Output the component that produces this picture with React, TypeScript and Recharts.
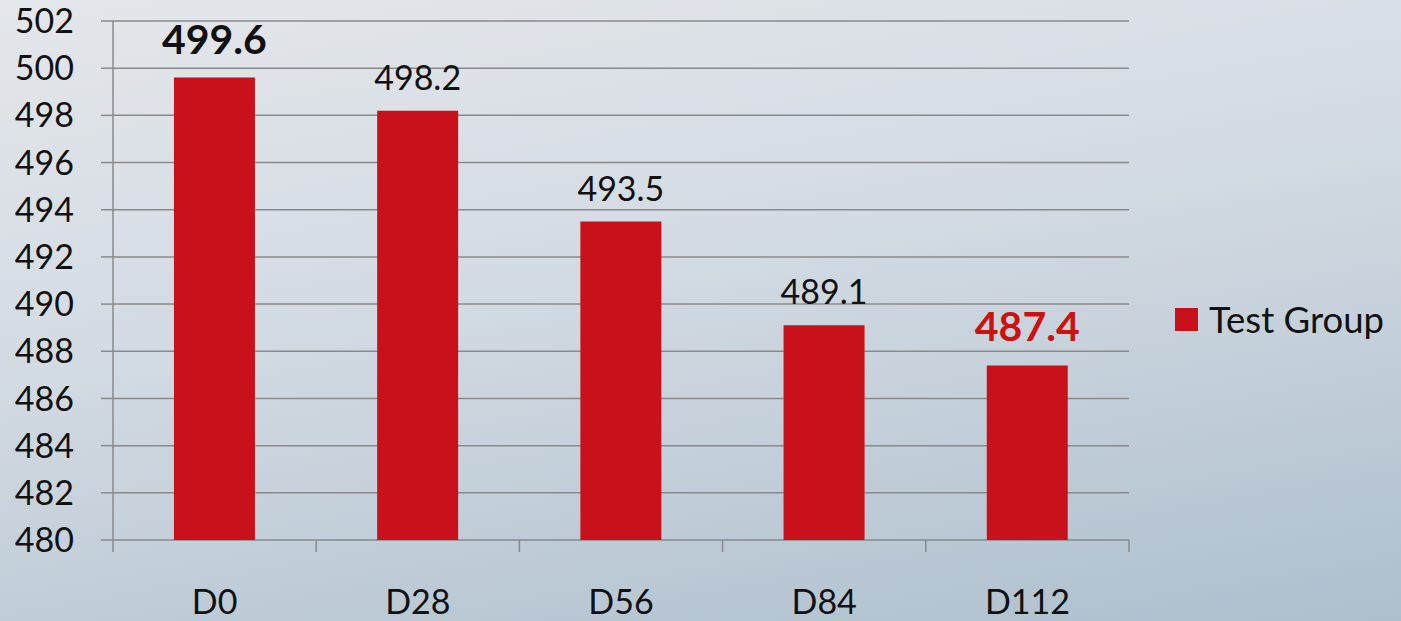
import React from "react";
import {
  BarChart,
  Bar,
  XAxis,
  YAxis,
  CartesianGrid,
  Legend,
  LabelList,
} from "recharts";

const days = ["D0", "D28", "D56", "D84", "D112"];
const testGroup = [499.6, 498.2, 493.5, 489.1, 487.4];
const yTicks = [480, 482, 484, 486, 488, 490, 492, 494, 496, 498, 500, 502];
const edgeTicks = [0, 1, 2, 3, 4, 5];

const data = days.map((day, i) => ({ day, value: testGroup[i], slot: i + 0.5 }));

const FONT = "Lato, 'Open Sans', sans-serif";
const RED = "#c8111a";
const GRID = "#8a8a8a";

// first and last labels are emphasised in the source
function ValueLabel(props: any) {
  const { x, y, width, value, index } = props;
  const last = index === testGroup.length - 1;
  const first = index === 0;
  const bold = first || last;
  return (
    <text
      x={x + width / 2}
      y={y - (bold ? 24 : 21)}
      textAnchor="middle"
      fontFamily={FONT}
      fontSize={bold ? 41 : 34}
      fontWeight={bold ? 700 : 400}
      fill={last ? "#cc1111" : "#111"}
    >
      {value}
    </text>
  );
}

function LegendBox() {
  return (
    <div style={{ display: "flex", alignItems: "center", fontFamily: FONT }}>
      <span style={{ width: 23, height: 23, background: RED, display: "inline-block" }} />
      <span style={{ marginLeft: 11, fontSize: 36.5, color: "#111" }}>Test Group</span>
    </div>
  );
}

export default function App() {
  return (
    <div
      style={{
        position: "absolute",
        left: 0,
        top: 0,
        width: 1401,
        height: 621,
        background: "linear-gradient(170deg, #e4e7eb 0%, #d2dae2 45%, #adbfcd 100%)",
      }}
    >
      <BarChart
        width={1401}
        height={621}
        data={data}
        margin={{ top: 21, right: 52, left: 0, bottom: 0 }}
        barCategoryGap="30%"
      >
        <CartesianGrid horizontal vertical={false} stroke={GRID} strokeWidth={1.5} />
        {/* tick marks between categories, like the source */}
        <XAxis
          xAxisId={0}
          dataKey="slot"
          type="number"
          domain={[0, 5]}
          ticks={edgeTicks}
          tickFormatter={() => ""}
          axisLine={false}
          tickLine={{ stroke: GRID, strokeWidth: 1.5 }}
          tickSize={12}
          height={1}
        />
        <XAxis
          xAxisId="cat"
          dataKey="day"
          axisLine={false}
          tickLine={false}
          tickSize={0}
          tickMargin={49}
          height={80}
          tick={{ fontFamily: FONT, fontSize: 34, fill: "#111" }}
        />
        <YAxis
          domain={[480, 502]}
          ticks={yTicks}
          width={113}
          axisLine={{ stroke: GRID, strokeWidth: 1.5 }}
          tickLine={{ stroke: GRID, strokeWidth: 1.5 }}
          tickSize={12}
          tickMargin={27}
          tick={{ fontFamily: FONT, fontSize: 34, fill: "#111" }}
        />
        <Legend
          layout="vertical"
          align="right"
          verticalAlign="top"
          wrapperStyle={{ left: 1175, top: 297, width: 220 }}
          content={() => <LegendBox />}
        />
        <Bar
          xAxisId="cat"
          dataKey="value"
          name="Test Group"
          fill={RED}
          isAnimationActive={false}
        >
          <LabelList dataKey="value" content={<ValueLabel />} />
        </Bar>
      </BarChart>
    </div>
  );
}
